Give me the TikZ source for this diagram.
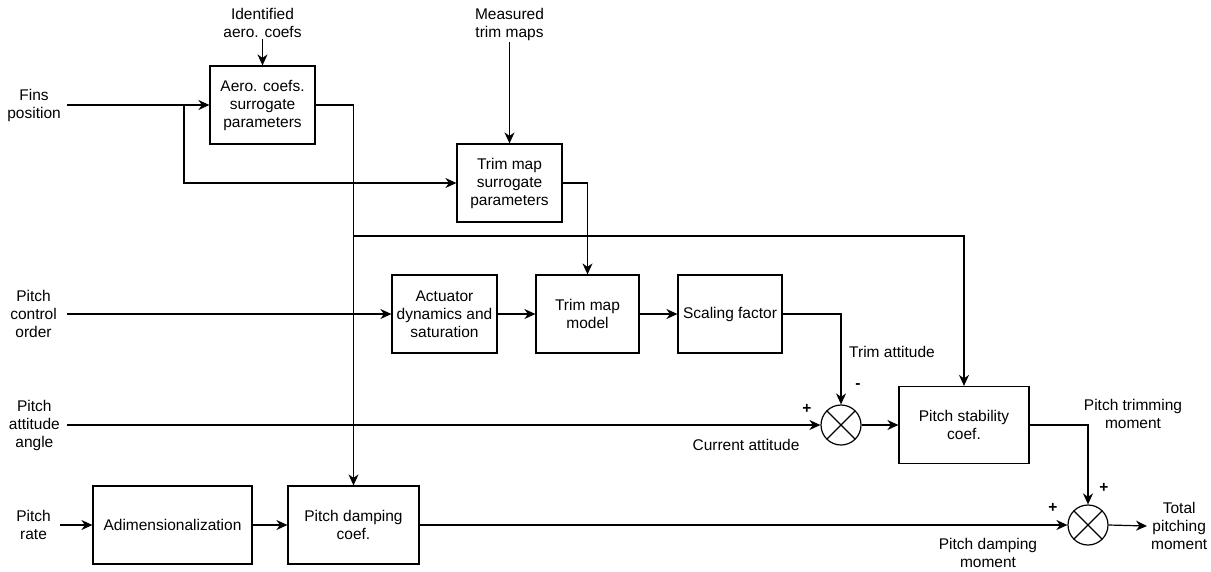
\documentclass[tikz,border=0pt]{standalone}
\usepackage{fontspec}
\setmainfont{Liberation Sans}
\usetikzlibrary{arrows.meta}
\begin{document}
\begin{tikzpicture}[x=1pt,y=-1pt,
  every node/.style={font=\fontsize{15.5}{18}\selectfont},
  blk/.style={draw,line width=1.2pt,rectangle,inner sep=0pt,align=center,minimum height=78pt},
  lbl/.style={inner sep=0pt,align=center},
  sgn/.style={inner sep=0pt,font=\fontsize{15.5}{18}\selectfont\bfseries},
  sumnode/.style={draw,line width=1.2pt,circle,minimum size=40pt,inner sep=0pt,
     path picture={\draw[line width=1.2pt] (path picture bounding box.north east)--(path picture bounding box.south west)
       (path picture bounding box.north west)--(path picture bounding box.south east);}},
  wire/.style={line width=1.2pt},
  arr/.style={wire,-{Stealth[length=11pt,width=10pt,inset=3.5pt]}}]
\useasboundingbox (0,0) rectangle (1211,571);

% blocks
\node[blk,minimum width=105pt] (aero) at (262.5,105) {Aero. coefs.\\surrogate\\parameters};
\node[blk,minimum width=105pt] (trimsur) at (509.5,183) {Trim map\\surrogate\\parameters};
\node[blk,minimum width=105pt] (act) at (444.5,314) {Actuator\\dynamics and\\saturation};
\node[blk,minimum width=103pt] (model) at (587.5,314) {Trim map\\model};
\node[blk,minimum width=104pt] (scale) at (730,314) {Scaling factor};
\node[blk,minimum width=130pt,minimum height=77pt] (stab) at (964,425) {Pitch stability\\coef.};
\node[blk,minimum width=159pt] (adim) at (172.5,525) {Adimensionalization};
\node[blk,minimum width=131pt] (pdamp) at (353.5,525) {Pitch damping\\coef.};
\node[sumnode] (sum1) at (841,425) {};
\node[sumnode] (sum2) at (1088,525) {};

% input / output labels
\node[lbl,anchor=east,inner xsep=6pt] (fins) at (67,105) {Fins\\position};
\node[lbl,anchor=east,inner xsep=10pt] (pco) at (67,314) {Pitch\\control\\order};
\node[lbl,anchor=east,inner xsep=7pt] (att) at (67,425) {Pitch\\attitude\\angle};
\node[lbl,anchor=east,inner xsep=9pt] (rate) at (60,525) {Pitch\\rate};
\node[lbl,anchor=south,inner ysep=1pt] (idaero) at (262.5,39) {Identified\\aero. coefs};
\node[lbl,anchor=south,inner ysep=1pt] (meas) at (509.5,42) {Measured\\trim maps};
\node[lbl,anchor=west,inner xsep=4pt] (total) at (1147,526) {Total\\pitching\\moment};

% annotation texts
\node[lbl,anchor=west] (trimatt) at (849,352) {Trim attitude};
\node[lbl] (curatt) at (746,445) {Current attitude};
\node[lbl] (trimmom) at (1133,414) {Pitch trimming\\moment};
\node[lbl] (dampmom) at (988,553) {Pitch damping\\moment};
\node[sgn] (m1) at (858,386) {-};
\node[sgn] (p1) at (807,409) {+};
\node[sgn] (p2) at (1104,488) {+};
\node[sgn] (p3) at (1053,508) {+};

% branch points
\coordinate (b1) at (184,105);
\coordinate (b2) at (353.5,236);

% connectors
\draw[arr] (fins.east) -- (aero.west);
\draw[arr] (b1) |- (trimsur.west);
\draw[arr] (idaero.south) -- (aero.north);
\draw[arr] (meas.south) -- (trimsur.north);
\draw[arr] (aero.east) -| (pdamp.north);
\draw[arr] (b2) -| (stab.north);
\draw[arr] (trimsur.east) -| (model.north);
\draw[arr] (pco.east) -- (act.west);
\draw[arr] (act.east) -- (model.west);
\draw[arr] (model.east) -- (scale.west);
\draw[arr] (scale.east) -| (sum1.north);
\draw[arr] (att.east) -- (sum1.west);
\draw[arr] (sum1.east) -- (stab.west);
\draw[arr] (stab.east) -| (sum2.north);
\draw[arr] (rate.east) -- (adim.west);
\draw[arr] (adim.east) -- (pdamp.west);
\draw[arr] (pdamp.east) -- (sum2.west);
\draw[arr] (sum2.east) -- (total.west);
\end{tikzpicture}
\end{document}
